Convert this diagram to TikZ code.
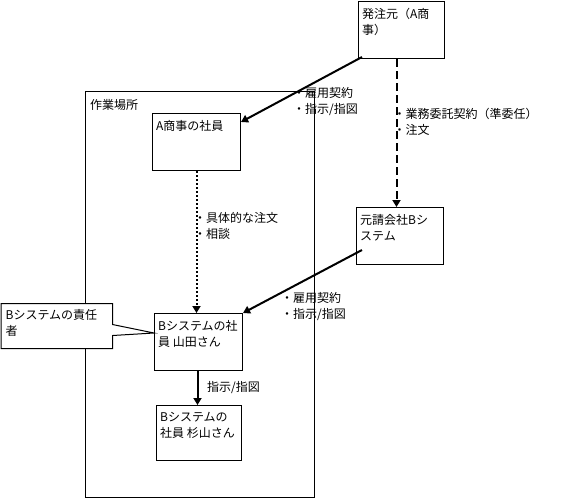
\documentclass[tikz,border=0pt]{standalone}
\usepackage{fontspec}
\setmainfont{Noto Sans CJK JP}
\usetikzlibrary{arrows.meta,shapes.callouts}
\tikzset{
    workarea/.style={
        draw,
        line width=1pt,
        anchor=north west,
        inner sep=0pt
    },
    entity/.style={
        draw,
        fill=white,
        line width=1pt,
        anchor=north west,
        inner sep=0pt
    },
    boxtext/.style={
        anchor=north west,
        xshift=4pt,
        yshift=-7pt,
        inner sep=0pt,
        align=left
    },
    note/.style={
        rectangle callout,
        draw,
        fill=white,
        line width=1pt,
        anchor=north west,
        inner sep=0pt,
        callout pointer width=11pt
    },
    lbl/.style={
        anchor=north west,
        inner sep=0pt,
        align=left
    },
    arrow/.style={-{Triangle[length=7pt,width=8pt]}, line width=2pt},
    dasharrow/.style={-{Triangle[length=7pt,width=8pt]}, line width=2pt,
        dash pattern=on 8pt off 4pt},
    dotarrow/.style={-{Triangle[length=7pt,width=8pt]}, line width=2pt,
        dash pattern=on 2pt off 2pt}
}

\begin{document}
\begin{tikzpicture}[x=1pt, y=-1pt, font=\fontsize{12}{16}\selectfont]
\useasboundingbox (0,0) rectangle (579,499);

% work place
\node[workarea, minimum width=229, minimum height=406,
      label={[boxtext, xshift=1pt, yshift=-1pt]north west:{作業場所}}] (place) at (85,91) {};

% companies
\node[entity, minimum width=86, minimum height=57.5,
      label={[boxtext, yshift=-1pt]north west:{発注元（A商\\事）}}] (hacchu) at (358,0.5) {};
\node[entity, minimum width=87, minimum height=57,
      label={[boxtext]north west:{元請会社Bシ\\ステム}}] (motouke) at (356,207) {};

% staff
\node[entity, minimum width=88, minimum height=57,
      label={[boxtext]north west:{A商事の社員}}] (ashouji) at (152,113) {};
\node[entity, minimum width=88, minimum height=57,
      label={[boxtext]north west:{Bシステムの社\\員 山田さん}}] (yamada) at (154,313) {};
\node[entity, minimum width=85, minimum height=55,
      label={[boxtext]north west:{Bシステムの\\社員 杉山さん}}] (sugiyama) at (156,405) {};

% callout
\node[note, minimum width=111.5, minimum height=45,
      callout absolute pointer={([yshift=9pt]yamada.west)},
      label={[boxtext, xshift=1pt, yshift=1pt]north west:{Bシステムの責任\\者}}] (leader) at (0.5,303) {};

% connections
\draw[arrow] ([shift={(4pt,2pt)}]hacchu.south west) -- ([yshift=-9pt]ashouji.north east);
\draw[dasharrow] ([xshift=-5pt]hacchu.south) -- ([xshift=-3.5pt]motouke.north);
\draw[arrow] ([shift={(6pt,-14pt)}]motouke.west) -- (yamada.north east);
\draw[dotarrow] (ashouji.south) -- (ashouji.south |- yamada.north);
\draw[arrow] ([xshift=-1pt]yamada.south) -- ([xshift=-1pt]yamada.south |- sugiyama.north);

% labels
\node[lbl] (keiyaku1) at (293,87) {・雇用契約\\・指示/指図};
\node[lbl] (itaku) at (393.5,108) {・業務委託契約（準委任）\\・注文};
\node[lbl] (chumon) at (194,212) {・具体的な注文\\・相談};
\node[lbl] (keiyaku2) at (281,292) {・雇用契約\\・指示/指図};
\node[lbl] (shiji) at (207,381) {指示/指図};

\end{tikzpicture}
\end{document}
